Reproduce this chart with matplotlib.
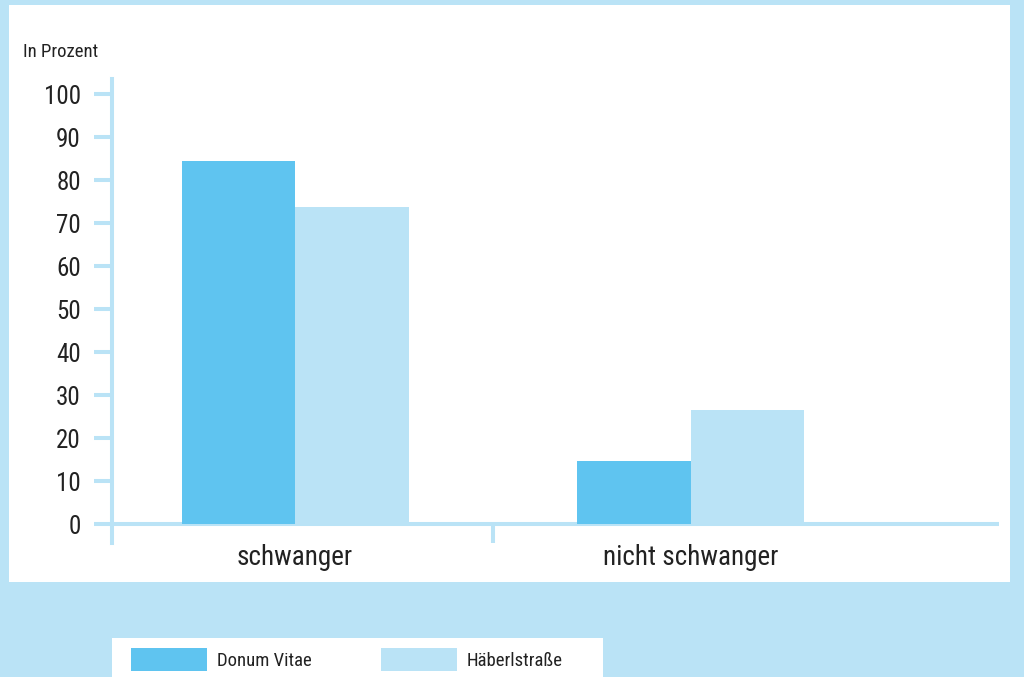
import matplotlib.pyplot as plt
from matplotlib.patches import Rectangle

plt.rcParams['font.family'] = ['Roboto Condensed', 'Liberation Sans Narrow', 'Roboto', 'DejaVu Sans']

categories = ['schwanger', 'nicht schwanger']
series_names = ['Donum Vitae', 'Häberlstraße']
donum_vitae = [84.6, 14.7]
haeberlstrasse = [73.7, 26.6]

dark_blue = '#5fc4f0'
light_blue = '#bae3f6'
text_col = '#222222'

W, H = 1024, 677
fig = plt.figure(figsize=(W / 100, H / 100), dpi=100)
fig.patch.set_facecolor(light_blue)

# white panels (chart area and legend box)
fig.patches.append(Rectangle((9 / W, 1 - 582 / H), 1001 / W, 577 / H, transform=fig.transFigure,
                             facecolor='white', edgecolor='none', zorder=-2))
fig.patches.append(Rectangle((112 / W, 0), 491 / W, 39 / H, transform=fig.transFigure,
                             facecolor='white', edgecolor='none', zorder=-2))

ax = fig.add_axes([111.5 / W, 1 - 543 / H, (999 - 111.5) / W, (543 - 79) / H])
ax.set_facecolor('none')
ax.set_zorder(1)

x = list(range(len(categories)))
w = 0.287
ax.bar([i - w / 2 for i in x], donum_vitae, width=w, color=dark_blue, zorder=2)
ax.bar([i + w / 2 for i in x], haeberlstrasse, width=w, color=light_blue, zorder=2)

ax.set_xlim(-0.464, 1.78)
ax.set_ylim(-4.4, 103.6)

for s in ['top', 'right', 'bottom']:
    ax.spines[s].set_visible(False)
ax.spines['left'].set_color(light_blue)
ax.spines['left'].set_linewidth(2.9)

ax.axhline(0, color=light_blue, linewidth=2.9, zorder=1)
ax.plot([0.5, 0.5], [-4.4, 0], color=light_blue, linewidth=2.9, solid_capstyle='butt', zorder=1)

ax.set_yticks(range(0, 101, 10))
ax.tick_params(axis='y', direction='out', length=13, width=2.9, color=light_blue,
               labelsize=18, labelcolor=text_col, pad=9)
ax.set_xticks(x, categories)
ax.tick_params(axis='x', length=0, labelsize=19.5, labelcolor=text_col, pad=1)

fig.text(23 / W, 1 - 57 / H, 'In Prozent', fontsize=13.5, color=text_col, va='baseline')

# legend
for name, col, x0 in zip(series_names, [dark_blue, light_blue], [131, 381]):
    fig.patches.append(Rectangle((x0 / W, 1 - 671 / H), 76 / W, 23 / H, transform=fig.transFigure,
                                 facecolor=col, edgecolor='none', zorder=-1))
    fig.text((x0 + 86) / W, 1 - 666 / H, name, fontsize=13.5, color=text_col, va='baseline')

fig.savefig('out.png', dpi=100, facecolor=fig.get_facecolor())
